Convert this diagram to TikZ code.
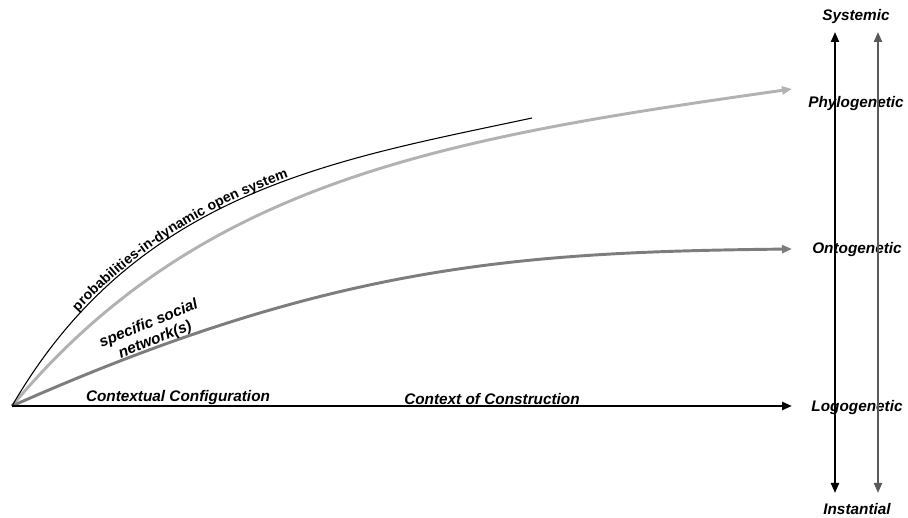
\documentclass[tikz,border=0pt]{standalone}
\usepackage{fontspec}
\setmainfont{Liberation Sans}
\usetikzlibrary{arrows.meta,calc,positioning,decorations.text}
\definecolor{lightcurve}{RGB}{178,178,178}
\definecolor{midcurve}{RGB}{125,125,125}
\definecolor{darkaxis}{RGB}{90,90,90}
\newcommand{\labfont}{\fontsize{11.5}{13}\selectfont\bfseries\itshape}
\newcommand{\probfont}{\fontsize{10.5}{12}\selectfont\bfseries}
\tikzset{
  >={Triangle[length=7.5pt,width=6pt]},
  scalelabel/.style={font=\labfont, inner sep=1pt},
  pathlabel/.style={font=\labfont, inner sep=1pt, anchor=south},
  baseaxis/.style={draw=black, line width=2.2pt, ->},
  phylocurve/.style={draw=lightcurve, line width=2.2pt, ->},
  ontocurve/.style={draw=midcurve, line width=2.2pt, ->},
  opencurve/.style={draw=black, line width=0.8pt},
  scalearrow/.style={line width=1.5pt, <->}
}

\begin{document}
\begin{tikzpicture}[x=0.75pt,y=0.75pt]
  \useasboundingbox (0,0) rectangle (908,518);

  % Origin and end points of the three time scales.
  \coordinate (O) at (12,112);
  \coordinate (logoEnd) at (792,112);
  \coordinate (ontoEnd) at (792,269);
  \coordinate (phyloEnd) at (792,429);
  \coordinate (openEnd) at (532,400);

  % Labels on the right.
  \node[scalelabel] (sys) at (856,501) {Systemic};
  \node[scalelabel] (phylo) at (856,414) {Phylogenetic};
  \node[scalelabel] (onto) at (857,268) {Ontogenetic};
  \node[scalelabel] (logo) at (857,110) {Logogenetic};
  \node[scalelabel] (inst) at (857,9) {Instantial};

  % Draw the two vertical scales.
  \coordinate (blackTop) at (835,486);
  \coordinate (blackBot) at (835,25);
  \coordinate (grayTop) at (878,486);
  \coordinate (grayBot) at (878,25);
  \draw[scalearrow, black] (blackBot) -- (blackTop);
  \draw[scalearrow, darkaxis] (grayBot) -- (grayTop);

  % Draw the curves from the origin.
  \draw[phylocurve] (O) .. controls (200,338) and (445,380) .. (phyloEnd);
  \draw[ontocurve] (O) .. controls (332,254) and (520,266) .. (ontoEnd);
  \draw[opencurve, postaction={decorate, decoration={text along path,
      text={|\probfont|probabilities-in-dynamic open system},
      text align={left indent=86pt}, raise=1.5pt}}]
    (O) .. controls (137,328) and (336,358) .. (openEnd);
  \draw[baseaxis] (O) -- (logoEnd);

  % Labels along the paths.
  \node[pathlabel] (ccfg) at (178,112) {Contextual Configuration};
  \node[pathlabel] (ccon) at (492,112) {Context of Construction};
  \node[font=\labfont, align=center, rotate=22, inner sep=1pt] (net) at (152,186)
    {specific social\\network(s)};
\end{tikzpicture}
\end{document}
